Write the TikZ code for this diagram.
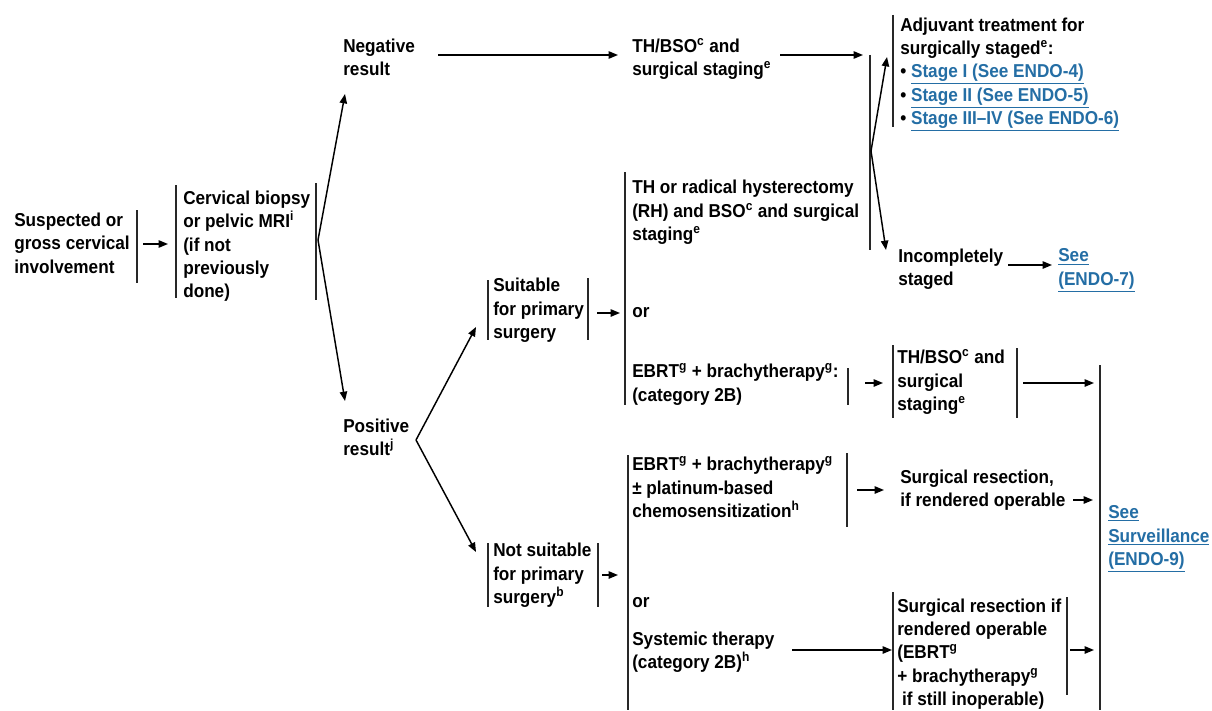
\documentclass[tikz,border=0pt]{standalone}
\usepackage{fontspec}
\setmainfont{Liberation Sans}[FakeStretch=0.92]
\usetikzlibrary{arrows.meta}
\definecolor{linkblue}{RGB}{36,110,165}
\definecolor{barcol}{RGB}{40,40,40}
\newcommand\lnk[1]{\textcolor{linkblue}{\underline{#1}}}
\newcommand\sps[1]{\textsuperscript{#1}}
\begin{document}
\begin{tikzpicture}[x=0.75pt,y=-0.75pt,
  font={\fontsize{14}{17.5}\selectfont\bfseries},
  txt/.style={anchor=west,inner sep=0pt,align=left,yshift=-1.5pt,
    execute at begin node=\strut,execute at end node=\strut},
  bar/.style={line width=1.2pt,barcol},
  arr/.style={line width=1.1pt,-{Triangle[length=7pt,width=5.5pt]}}]
\useasboundingbox[fill=white] (0,0) rectangle (1212,710);

% ---------- nodes ----------
\node[txt] (susp) at (14,244.5) {Suspected or\\gross cervical\\involvement};
\node[txt] (cerv) at (183,246) {Cervical biopsy\\or pelvic MRI\sps{i}\\(if not\\previously\\done)};
\node[txt] (neg) at (343,58.5) {Negative\\result};
\node[txt] (thbso) at (632,58.5) {TH/BSO\sps{c} and\\surgical staging\sps{e}};
\node[txt] (adj) at (900,72.5) {Adjuvant treatment for\\surgically staged\sps{e}:\\%
  \textbullet\ \lnk{Stage I (See ENDO-4)}\\%
  \textbullet\ \lnk{Stage II (See ENDO-5)}\\%
  \textbullet\ \lnk{Stage III--IV (See ENDO-6)}};
\node[txt] (inc) at (898,268.5) {Incompletely\\staged};
\node[txt] (endo7) at (1058,268.5) {\lnk{See}\\\lnk{(ENDO-7)}};
\node[txt] (pos) at (343,438.5) {Positive\\result\sps{j}};
\node[txt] (suit) at (493,310) {Suitable\\for primary\\surgery};
\node[txt] (thrh) at (632,212) {TH or radical hysterectomy\\(RH) and BSO\sps{c} and surgical\\staging\sps{e}};
\node[txt] (or1) at (632,311) {or};
\node[txt] (ebrt1) at (632,384) {EBRT\sps{g} + brachytherapy\sps{g}:\\(category 2B)};
\node[txt] (thbso2) at (897,381.5) {TH/BSO\sps{c} and\\surgical\\staging\sps{e}};
\node[txt] (nots) at (493,575) {Not suitable\\for primary\\surgery\sps{b}};
\node[txt] (ebrt2) at (632,488.5) {EBRT\sps{g} + brachytherapy\sps{g}\\\textpm\ platinum-based\\chemosensitization\sps{h}};
\node[txt] (surg1) at (900,490) {Surgical resection,\\if rendered operable};
\node[txt] (or2) at (632,601) {or};
\node[txt] (syst) at (632,651.5) {Systemic therapy\\(category 2B)\sps{h}};
\node[txt] (surg2) at (897,653.5) {Surgical resection if\\rendered operable\\(EBRT\sps{g}\\+ brachytherapy\sps{g}\\\ if still inoperable)};
\node[txt] (surv) at (1108,537) {\lnk{See}\\\lnk{Surveillance}\\\lnk{(ENDO-9)}};

% ---------- bars ----------
\draw[bar] (137,210) -- (137,283);
\draw[bar] (176,185) -- (176,298);
\draw[bar] (316,183) -- (316,300);
\draw[bar] (870,55) -- (870,250);
\draw[bar] (893,15) -- (893,127);
\draw[bar] (488,280) -- (488,340);
\draw[bar] (588,278) -- (588,340);
\draw[bar] (625,172) -- (625,405);
\draw[bar] (848,368) -- (848,405);
\draw[bar] (893,345) -- (893,418);
\draw[bar] (1017,348) -- (1017,418);
\draw[bar] (488,543) -- (488,607);
\draw[bar] (598,543) -- (598,607);
\draw[bar] (628,455) -- (628,710);
\draw[bar] (847,453) -- (847,527);
\draw[bar] (893,592) -- (893,710);
\draw[bar] (1067,597) -- (1067,695);
\draw[bar] (1100,365) -- (1100,710);

% ---------- connector points ----------
\coordinate (s1) at (143,244);  \coordinate (e1) at (168,244);
\coordinate (ap1) at (318,240);
\coordinate (tneg) at (345,94); \coordinate (tpos) at (345,401);
\coordinate (s2) at (438,55);   \coordinate (e2) at (618,55);
\coordinate (s3) at (780,55);   \coordinate (e3) at (863,55);
\coordinate (ap2) at (871,151);
\coordinate (tadj) at (887,57); \coordinate (tinc) at (886,250);
\coordinate (s4) at (1008,265); \coordinate (e4) at (1052,265);
\coordinate (ap3) at (416,440);
\coordinate (tsuit) at (476,327); \coordinate (tnots) at (476,552);
\coordinate (s5) at (597,313);  \coordinate (e5) at (620,313);
\coordinate (s6) at (865,383);  \coordinate (e6) at (883,383);
\coordinate (s7) at (1023,383); \coordinate (e7) at (1094,383);
\coordinate (s8) at (602,575);  \coordinate (e8) at (618,575);
\coordinate (s9) at (857,490);  \coordinate (e9) at (884,490);
\coordinate (s10) at (1073,500);\coordinate (e10) at (1093,500);
\coordinate (s11) at (792,650); \coordinate (e11) at (892,650);
\coordinate (s12) at (1070,650);\coordinate (e12) at (1094,650);

% ---------- connectors ----------
\draw[arr] (s1) -- (e1);
\draw[arr] (ap1) -- (tneg);
\draw[arr] (ap1) -- (tpos);
\draw[arr] (s2) -- (e2);
\draw[arr] (s3) -- (e3);
\draw[arr] (ap2) -- (tadj);
\draw[arr] (ap2) -- (tinc);
\draw[arr] (s4) -- (e4);
\draw[arr] (ap3) -- (tsuit);
\draw[arr] (ap3) -- (tnots);
\draw[arr] (s5) -- (e5);
\draw[arr] (s6) -- (e6);
\draw[arr] (s7) -- (e7);
\draw[arr] (s8) -- (e8);
\draw[arr] (s9) -- (e9);
\draw[arr] (s10) -- (e10);
\draw[arr] (s11) -- (e11);
\draw[arr] (s12) -- (e12);
\end{tikzpicture}
\end{document}
